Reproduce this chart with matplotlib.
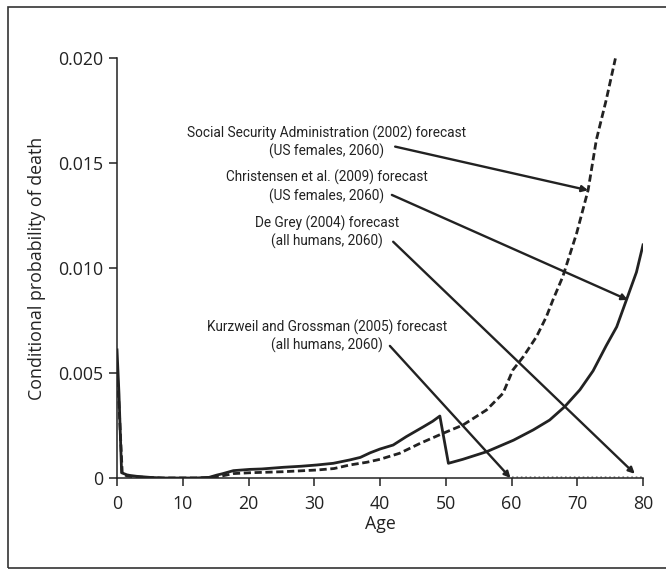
import matplotlib
matplotlib.use("Agg")
import matplotlib.pyplot as plt
from matplotlib.patches import Rectangle

# current-ish curve (solid) and SSA curve (dashed)
solid_age = [0, 0.3, 0.7, 1.5, 2, 3, 5, 7, 10, 12, 14, 15.2, 16, 17.7, 20.2, 22, 25.3, 28, 30.4,
             32.9, 35.4, 37, 38.5, 40, 42, 44, 46.6, 48, 49.1, 50.4, 52.6, 56.2, 60.3, 63.3,
             65.8, 68.1, 70.4, 72.4, 74.4, 76.0, 77.5, 79, 80]
solid_q = [0.0061, 0.0040, 0.00025, 0.00015, 0.00012, 0.00008, 0.00003, 0.0, 0.0, 0.0, 0.00003,
           0.00014, 0.0002, 0.00035, 0.00041, 0.00043, 0.00051, 0.00056, 0.00062,
           0.0007, 0.00086, 0.00098, 0.0012, 0.00138, 0.00157, 0.00197, 0.00244, 0.0027,
           0.00295, 0.0007, 0.00089, 0.00125, 0.0018, 0.00229,
           0.00276, 0.0034, 0.0042, 0.0051, 0.0063, 0.0072, 0.0085, 0.0098, 0.0111]

dash_age = [0, 0.3, 0.8, 1.5, 2, 3, 5, 7, 10, 12, 14, 16, 17.7, 20.2, 25.3, 30.4, 33, 35.4, 38,
            40, 43, 46.1, 49.6, 52.6, 56.2, 58.7, 60.2, 61.8, 63.8, 65.3, 66.3, 67.8, 69.9,
            71.65, 72.9, 74.4, 75.8]
dash_q = [0.0052, 0.0035, 0.0002, 0.0001, 0.00008, 0.00005, 0.00002, 0.0, 0.0, 0.0, 0.00002,
          0.0001, 0.00021, 0.00025, 0.0003, 0.00038, 0.00045, 0.00062, 0.00075,
          0.00089, 0.00118, 0.00165, 0.00213, 0.00252, 0.00324, 0.00403, 0.00514, 0.00578,
          0.00673, 0.00768, 0.00848, 0.00959, 0.01165, 0.01371, 0.0161, 0.018, 0.01998]

labels = ["Social Security Administration (2002) forecast\n(US females, 2060)",
          "Christensen et al. (2009) forecast\n(US females, 2060)",
          "De Grey (2004) forecast\n(all humans, 2060)",
          "Kurzweil and Grossman (2005) forecast\n(all humans, 2060)"]
label_y = [0.01599, 0.01386, 0.01171, 0.00673]
arrow_from = [(42.3, 0.01578), (41.8, 0.01348), (42.0, 0.01125), (41.5, 0.00629)]
arrow_to = [(71.65, 0.0137), (77.7, 0.00848), (78.75, 0.0002), (59.85, 0.0)]

ink = "#222222"
plt.rcParams["font.family"] = ["Open Sans", "DejaVu Sans"]

fig = plt.figure(figsize=(6.66, 5.73), dpi=100)
ax = fig.add_axes([0.1757, 0.1658, 0.7898, 0.733])

ax.plot(solid_age, solid_q, color=ink, lw=2.0, solid_joinstyle="round")
ax.plot(dash_age, dash_q, color=ink, lw=2.0, dashes=(2.6, 1.3))
ax.plot([60, 80], [0.00005, 0.00005], color="#999999", lw=1.2, ls=":")

for lab, ly in zip(labels, label_y):
    ax.text(31.9, ly, lab, ha="center", va="center", fontsize=9.8, linespacing=1.25,
            color=ink, family=["Roboto", "DejaVu Sans"])
for p0, p1 in zip(arrow_from, arrow_to):
    ax.annotate("", xy=p1, xytext=p0,
                arrowprops=dict(arrowstyle="-|>", color=ink, lw=1.7,
                                mutation_scale=9, shrinkA=0, shrinkB=0))

ax.set_xlim(0, 80)
ax.set_ylim(0, 0.020)
ax.set_xticks(range(0, 81, 10))
ax.set_yticks([0, 0.005, 0.010, 0.015, 0.020])
ax.set_yticklabels(["0", "0.005", "0.010", "0.015", "0.020"])
ax.spines["top"].set_visible(False)
ax.spines["right"].set_visible(False)
for s in ("left", "bottom"):
    ax.spines[s].set_color(ink)
    ax.spines[s].set_linewidth(1.1)
ax.tick_params(direction="out", length=6, width=1.1, color=ink, labelsize=12.8,
               labelcolor=ink, pad=4)
ax.tick_params(axis="x", pad=6)
ax.set_xlabel("Age", fontsize=12.8, color=ink, labelpad=2)
ax.set_ylabel("Conditional probability of death", fontsize=12.8, color=ink, labelpad=9)

fig.add_artist(Rectangle((0.012, 0.0087), 1.0, 0.979, transform=fig.transFigure,
                         fill=False, lw=1.2, edgecolor="#333333"))

fig.savefig("out.png", dpi=100)
